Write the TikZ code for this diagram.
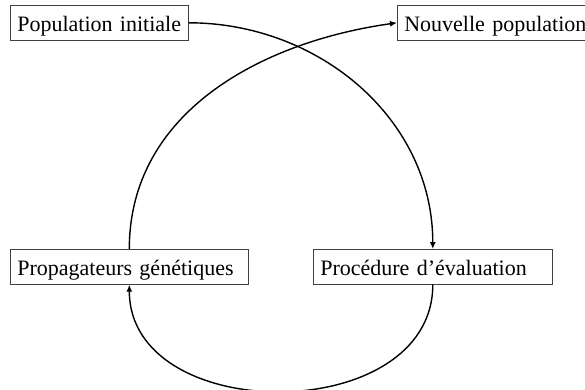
\documentclass[tikz,border=0pt]{standalone}
\usepackage{fontspec}
\setmainfont{Liberation Serif}
\usepackage{tikz}
\usetikzlibrary{arrows.meta}
\usetikzlibrary{positioning}

\begin{document}
\begin{tikzpicture}[x=1pt,y=-1pt,
  every node/.style={draw=black!75,line width=0.6pt,anchor=north west,align=left,
    inner xsep=7pt,inner ysep=0pt,minimum height=35pt,text height=22pt,text depth=5pt,
    font=\fontsize{22}{26}\selectfont},
  fleche/.style={line width=1.4pt,-{Latex[length=7pt,width=6pt]}}]
\useasboundingbox (0,0) rectangle (585,390);
\node[text width=164pt] (popinit) at (10,5) {Population initiale};
\node[text width=190pt] (nouvpop) at (397,5) {Nouvelle population};
\node[text width=224pt] (propag) at (10,249) {Propagateurs génétiques};
\node[text width=225pt] (evalproc) at (313,249) {Procédure d’évaluation};
% cycle
\draw[fleche] (popinit.east) to[out=0,in=90] (evalproc.north);
\draw[fleche] (evalproc.south) to[out=-90,in=-90,looseness=1.2] (propag.south);
\draw[fleche] (propag.north) to[out=90,in=188] (nouvpop.west);
\end{tikzpicture}
\end{document}
